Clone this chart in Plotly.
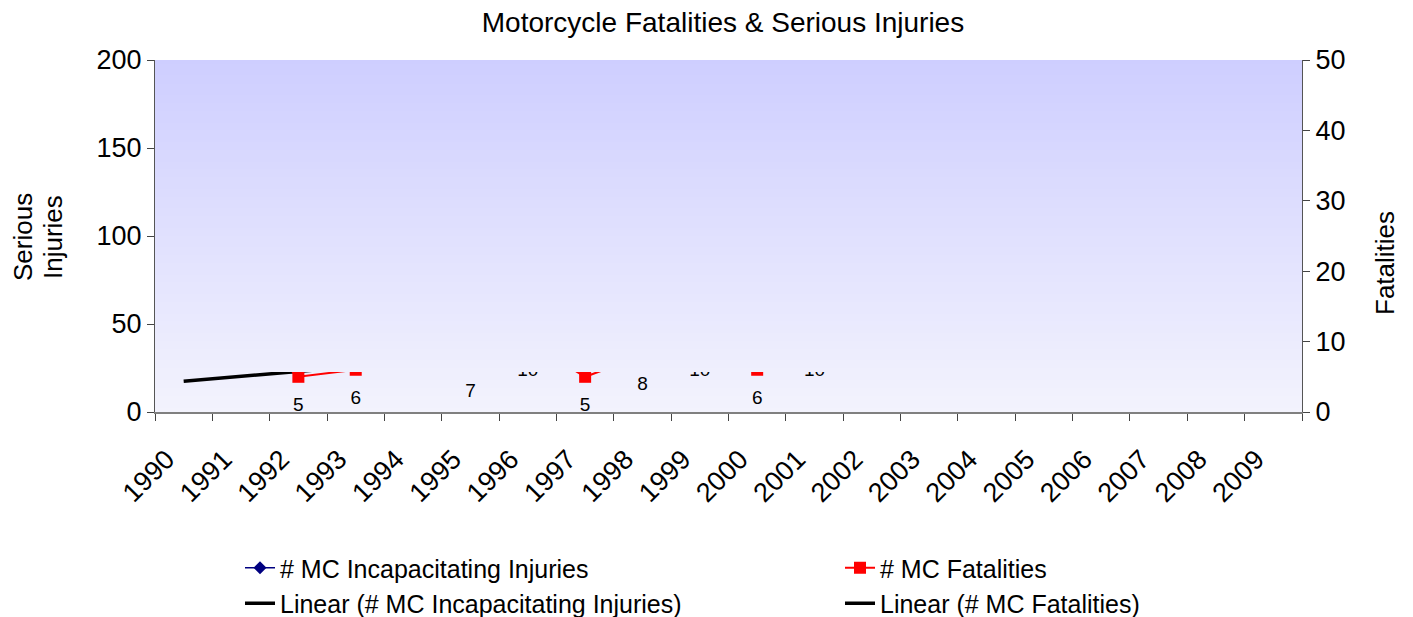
import numpy as np
import plotly.graph_objects as go

# ---------------- data ----------------
years = [str(y) for y in range(1990, 2010)]
injuries = [28, 27, 26, 30, 27, 27, 29, 31, 34, 37,
            42, 45, 48, 52, 55, 58, 65, 70, 74, 78]
fatalities = [13, 12, 5, 6, 11, 7, 10, 5, 8, 10,
              6, 10, 12, 13, 11, 15, 14, 18, 16, 13]
fatality_labels = [str(v) for v in fatalities]

FONT = "Liberation Sans, Arial, sans-serif"

# linear trends (Excel style) computed from the series
idx = np.arange(len(years))
inj_fit = np.polyval(np.polyfit(idx, injuries, 1), idx)
fat_fit = np.polyval(np.polyfit(idx, fatalities, 1), idx)

fig = go.Figure()

fig.add_trace(go.Scatter(
    x=years, y=injuries, name="# MC Incapacitating Injuries",
    mode="lines+markers", line=dict(color="#000080", width=1.5),
    marker=dict(symbol="diamond", size=10, color="#000080"),
    yaxis="y", legend="legend"))
fig.add_trace(go.Scatter(
    x=years, y=inj_fit, name="Linear (# MC Incapacitating Injuries)",
    mode="lines", line=dict(color="black", width=3.5),
    yaxis="y", legend="legend"))
fig.add_trace(go.Scatter(
    x=years, y=fatalities, name="# MC Fatalities",
    mode="lines+markers", line=dict(color="#FF0000", width=2),
    marker=dict(symbol="square", size=12, color="#FF0000"),
    yaxis="y2", legend="legend2"))
fig.add_trace(go.Scatter(
    x=years, y=fat_fit, name="Linear (# MC Fatalities)",
    mode="lines", line=dict(color="black", width=3.5),
    yaxis="y2", legend="legend2"))
# data labels for fatalities
fig.add_trace(go.Scatter(
    x=years, y=fatalities, text=fatality_labels, mode="markers+text",
    marker=dict(size=30, opacity=0), textposition="bottom center",
    textfont=dict(family=FONT, size=19, color="black"),
    yaxis="y2", showlegend=False, hoverinfo="skip"))

# ---------------- gradient plot area (drawn over the series above the band) ----------------
thr = 40 / 352.0
top_c = np.array([206, 206, 255])
bot_c = np.array([243, 243, 253])
shapes = []
def band(y0, y1, layer):
    t = (y0 + y1) / 2
    c = bot_c + t * (top_c - bot_c)
    shapes.append(dict(type="rect", xref="x domain", yref="y domain",
                       x0=0, x1=1, y0=y0, y1=y1 + 0.003, layer=layer,
                       fillcolor="rgb(%d,%d,%d)" % tuple(c.round().astype(int)),
                       line=dict(width=0)))
nb = 10
for i in range(nb):
    band(thr * i / nb, thr * (i + 1) / nb if i < nb - 1 else thr - 0.003, "below")
na = 80
for i in range(na):
    band(thr + (1 - thr) * i / na, thr + (1 - thr) * (i + 1) / na - (0.003 if i == na - 1 else 0), "above")

leg_common = dict(yref="container", y=1 - 545 / 617, xanchor="left", yanchor="top",
                  orientation="v", font=dict(family=FONT, size=25),
                  bgcolor="rgba(0,0,0,0)", tracegroupgap=0, maxheight=300)

fig.update_layout(
    width=1413, height=617,
    margin=dict(l=155, r=111, t=60, b=205, autoexpand=False),
    paper_bgcolor="white", plot_bgcolor="rgba(0,0,0,0)",
    font=dict(family=FONT, size=24, color="black"),
    title=dict(text="Motorcycle Fatalities & Serious Injuries",
               x=723 / 1413, xanchor="center", xref="container",
               y=1 - 22 / 617, yanchor="middle", yref="container",
               font=dict(family=FONT, size=28, color="black")),
    xaxis=dict(type="category", range=[-0.5, 19.5], tickson="boundaries",
               ticks="outside", ticklen=7, tickcolor="#444", showline=True,
               linecolor="#808080", linewidth=1.5, showgrid=False,
               tickangle=-45, ticklabelstandoff=19, ticklabelshift=-17,
               tickfont=dict(family=FONT, size=27)),
    yaxis=dict(range=[0, 200], dtick=50, ticks="outside", ticklen=7,
               tickcolor="#444", showline=True, linecolor="#555", linewidth=1,
               showgrid=False, zeroline=False,
               tickfont=dict(family=FONT, size=27)),
    yaxis2=dict(range=[0, 50], dtick=10, ticks="outside", ticklen=7,
                tickcolor="#444", showline=True, linecolor="#555", linewidth=1,
                showgrid=False, zeroline=False, overlaying="y", side="right",
                tickfont=dict(family=FONT, size=27)),
    legend=dict(x=(240 - 155) / 1147, **leg_common),
    legend2=dict(x=(840 - 155) / 1147, **leg_common),
    shapes=shapes,
    annotations=[
        dict(text="Serious", xref="paper", yref="paper",
             x=-(155 - 23) / 1147, y=(412 - 237) / 352, xanchor="center", yanchor="middle",
             textangle=-90, showarrow=False, font=dict(family=FONT, size=26)),
        dict(text="Injuries", xref="paper", yref="paper",
             x=-(155 - 53) / 1147, y=(412 - 237) / 352, xanchor="center", yanchor="middle",
             textangle=-90, showarrow=False, font=dict(family=FONT, size=26)),
        dict(text="Fatalities", xref="paper", yref="paper",
             x=1 + (1385 - 1302) / 1147, y=(412 - 263) / 352, xanchor="center", yanchor="middle",
             textangle=-90, showarrow=False, font=dict(family=FONT, size=26)),
    ],
)

fig.write_html("out.html", config={"displayModeBar": False},
               post_script="document.body.style.margin='0px';document.body.style.overflow='hidden';")
